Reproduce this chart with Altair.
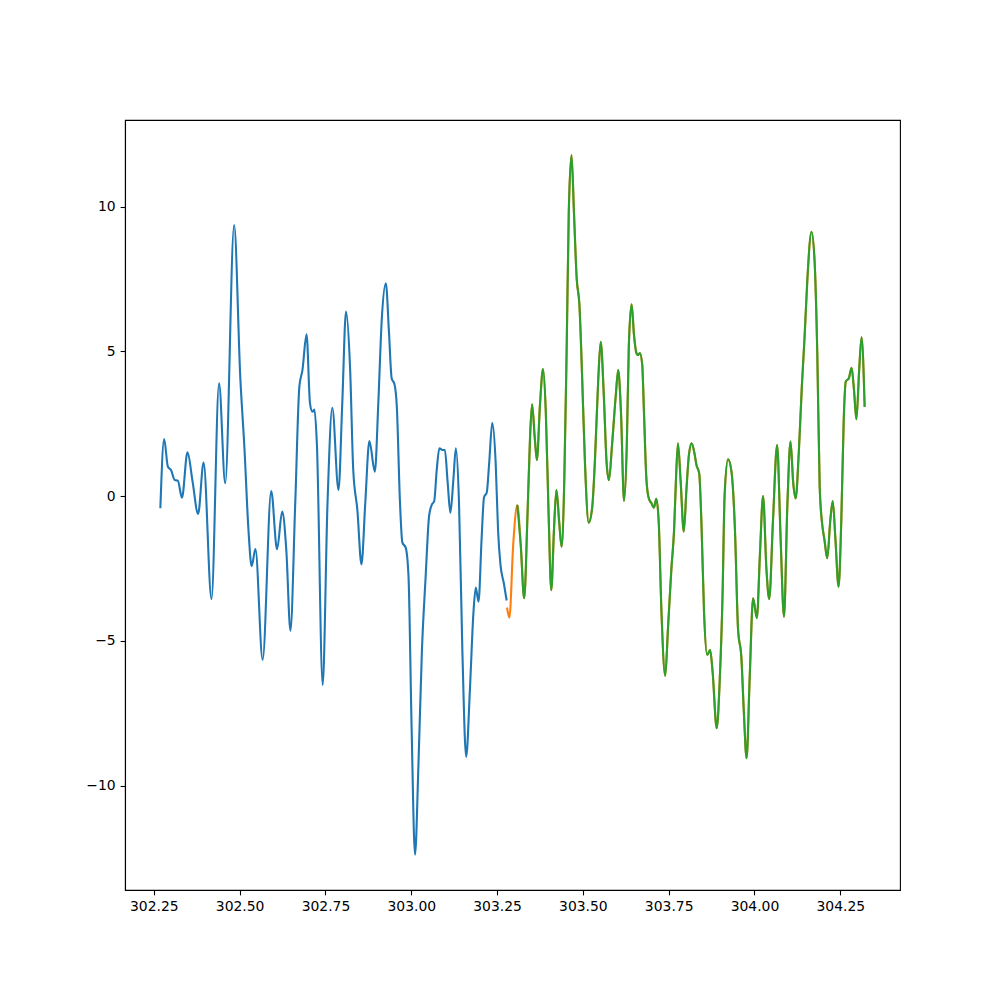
import altair as alt
import pandas as pd

# Observed series (blue)
blue_x = [302.269, 302.280, 302.291, 302.300, 302.311, 302.320, 302.332, 302.348, 302.363, 302.379,
          302.395, 302.418, 302.440, 302.458, 302.484, 302.502, 302.514, 302.526, 302.535, 302.546,
          302.567, 302.592, 302.609, 302.624, 302.636, 302.648, 302.662, 302.674, 302.683, 302.695,
          302.705, 302.712, 302.718, 302.725, 302.742, 302.756, 302.770, 302.788, 302.799, 302.810,
          302.822, 302.831, 302.843, 302.855, 302.866, 302.878, 302.894, 302.904, 302.914, 302.926,
          302.935, 302.943, 302.951, 302.958, 302.967, 302.974, 302.984, 302.992, 303.001, 303.011,
          303.021, 303.031, 303.042, 303.052, 303.060, 303.067, 303.074, 303.082, 303.091, 303.098,
          303.106, 303.114, 303.123, 303.130, 303.139, 303.149, 303.160, 303.171, 303.181, 303.188,
          303.196, 303.205, 303.212, 303.220, 303.227, 303.236, 303.246, 303.253, 303.260, 303.270,
          303.278]
blue_y = [-0.42, 1.97, 1.01, 0.90, 0.55, 0.53, -0.06, 1.51, 0.49, -0.62,
          1.16, -3.56, 3.89, 0.44, 9.36, 4.07, 1.65, -1.23, -2.42, -1.83,
          -5.66, 0.17, -1.84, -0.54, -1.87, -4.65, -0.25, 3.78, 4.35, 5.59,
          3.20, 2.91, 2.99, 1.82, -6.53, -0.25, 3.05, 0.21, 3.20, 6.37,
          4.35, 0.90, -0.48, -2.36, -0.25, 1.90, 0.84, 3.20, 6.08, 7.35,
          5.68, 4.06, 3.87, 3.08, -0.17, -1.60, -1.79, -2.77, -7.97, -12.39,
          -9.27, -5.37, -2.77, -0.69, -0.30, -0.17, 0.87, 1.65, 1.59, 1.59,
          0.48, -0.58, 0.61, 1.65, -0.17, -5.37, -9.01, -6.67, -4.07, -3.16,
          -3.65, -1.47, -0.04, 0.12, 1.13, 2.53, 1.13, -1.21, -2.38, -3.03,
          -3.61]

# Second series (orange underneath, green on top from the 4th point)
fc_x = [303.279, 303.286, 303.297, 303.309, 303.319, 303.329, 303.339, 303.346, 303.352, 303.360,
        303.366, 303.375, 303.384, 303.392, 303.400, 303.408, 303.416, 303.423, 303.431, 303.438,
        303.446, 303.453, 303.459, 303.467, 303.474, 303.482, 303.490, 303.498, 303.506, 303.517,
        303.527, 303.535, 303.545, 303.552, 303.561, 303.569, 303.576, 303.585, 303.596, 303.603,
        303.611, 303.620, 303.628, 303.634, 303.642, 303.649, 303.656, 303.661, 303.666, 303.673,
        303.678, 303.685, 303.692, 303.700, 303.707, 303.714, 303.721, 303.729, 303.740, 303.748,
        303.758, 303.766, 303.771, 303.777, 303.785, 303.794, 303.802, 303.809, 303.817, 303.826,
        303.831, 303.839, 303.846, 303.853, 303.862, 303.871, 303.878, 303.890, 303.899, 303.907,
        303.913, 303.923, 303.933, 303.943, 303.952, 303.962, 303.969, 303.977, 303.986, 303.996,
        304.007, 304.016, 304.025, 304.035, 304.043, 304.054, 304.066, 304.076, 304.086, 304.096,
        304.105, 304.113, 304.120, 304.129, 304.138, 304.146, 304.154, 304.166, 304.175, 304.183,
        304.190, 304.197, 304.204, 304.212, 304.221, 304.228, 304.236, 304.245, 304.253, 304.260,
        304.266, 304.275, 304.283, 304.290, 304.297, 304.305, 304.312, 304.321]
fc_y = [-3.85, -4.20, -1.69, -0.31, -1.69, -3.53, -0.54, 1.99, 3.17, 1.99,
        1.24, 3.14, 4.39, 2.91, -0.54, -3.25, -1.12, 0.21, -0.89, -1.75,
        0.61, 5.22, 9.82, 11.78, 9.82, 7.52, 6.60, 4.07, 1.18, -0.92,
        -0.42, 1.18, 4.07, 5.33, 3.49, 1.18, 0.55, 1.76, 3.49, 4.35,
        2.91, -0.17, 1.76, 5.22, 6.62, 5.56, 4.94, 4.87, 4.94, 4.53,
        2.91, 0.61, -0.08, -0.25, -0.40, -0.10, -0.89, -4.00, -6.21, -4.57,
        -2.50, -1.12, 0.49, 1.82, 0.49, -1.23, 0.27, 1.42, 1.82, 1.42,
        1.07, 0.78, -1.12, -4.00, -5.49, -5.32, -6.07, -8.02, -6.30, -3.42,
        0.03, 1.27, 0.84, -1.12, -4.57, -5.61, -7.45, -9.06, -6.30, -3.53,
        -4.22, -1.98, 0.00, -2.56, -3.56, -0.83, 1.76, -1.41, -4.17, -0.25,
        1.88, 0.44, -0.08, 1.47, 3.78, 5.50, 7.46, 9.13, 8.15, 4.93,
        0.32, -0.94, -1.52, -2.15, -0.83, -0.17, -1.52, -3.13, -0.83, 2.62,
        3.95, 4.07, 4.43, 3.66, 2.65, 4.35, 5.48, 3.08]
green_start = 3

x_ticks = [302.25, 302.5, 302.75, 303.0, 303.25, 303.5, 303.75, 304.0, 304.25]
y_ticks = [-10, -5, 0, 5, 10]
x_domain = [302.166, 304.424]
y_domain = [-13.61, 12.99]

blue_df = pd.DataFrame({"x": blue_x, "y": blue_y})
orange_df = pd.DataFrame({"x": fc_x, "y": fc_y})
green_df = pd.DataFrame({"x": fc_x[green_start:], "y": fc_y[green_start:]})

FONT = "DejaVu Sans"

x_enc = alt.X("x:Q", scale=alt.Scale(domain=x_domain, nice=False, zero=False),
              axis=alt.Axis(values=x_ticks, format=".2f", title=None, grid=False,
                            labelFont=FONT, labelFontSize=13.9, labelColor="black",
                            tickColor="black", tickSize=4.9, tickWidth=1.1,
                            domainColor="black", domainWidth=1.1, labelPadding=4.9,
                            labelFlush=False))
y_enc = alt.Y("y:Q", scale=alt.Scale(domain=y_domain, nice=False, zero=False),
              axis=alt.Axis(values=y_ticks, format="d", title=None, grid=False,
                            labelFont=FONT, labelFontSize=13.9, labelColor="black",
                            tickColor="black", tickSize=4.9, tickWidth=1.1,
                            domainColor="black", domainWidth=1.1, labelPadding=4.9,
                            labelFlush=False))

def line(df, color):
    return alt.Chart(df).mark_line(color=color, strokeWidth=2.1, interpolate="monotone",
                                   clip=True).encode(x=x_enc, y=y_enc, order="x:Q")

chart = alt.layer(
    line(blue_df, "#1f77b4"),
    line(orange_df, "#ff7f0e"),
    line(green_df, "#2ca02c"),
).properties(
    width=775, height=770,
    autosize=alt.AutoSizeParams(type="none"),
    padding={"left": 125, "top": 120, "right": 100, "bottom": 110},
    background="white",
).configure_view(stroke="black", strokeWidth=1.1)

chart.save("out.html", embed_options={"renderer": "svg", "actions": False})
